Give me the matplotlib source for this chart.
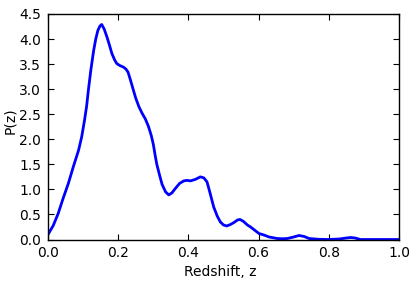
import numpy as np
import matplotlib
matplotlib.use("Agg")
import matplotlib.pyplot as plt

# redshift probability curve
z = [0.0, 0.015, 0.029, 0.043, 0.058, 0.072, 0.087, 0.096, 0.104, 0.110, 0.115,
     0.122, 0.130, 0.136, 0.142, 0.148, 0.153, 0.160, 0.168, 0.175, 0.182,
     0.190, 0.196, 0.205, 0.215, 0.222, 0.228, 0.235, 0.242, 0.250, 0.259,
     0.268, 0.277, 0.286, 0.294, 0.300, 0.306, 0.310, 0.318, 0.325, 0.335,
     0.344, 0.353, 0.363, 0.375, 0.387, 0.396, 0.406, 0.420, 0.434, 0.444,
     0.453, 0.462, 0.472, 0.482, 0.491, 0.500, 0.509, 0.520, 0.530, 0.540,
     0.547, 0.557, 0.568, 0.577, 0.590, 0.601, 0.615, 0.630, 0.653, 0.668,
     0.682, 0.700, 0.715, 0.730, 0.744, 0.770, 0.796, 0.830, 0.850, 0.863,
     0.875, 0.890, 0.950, 1.0]
pz = [0.10, 0.28, 0.52, 0.82, 1.12, 1.45, 1.78, 2.05, 2.38, 2.66, 2.98,
      3.38, 3.77, 4.00, 4.17, 4.26, 4.29, 4.20, 4.04, 3.88, 3.71,
      3.58, 3.51, 3.47, 3.44, 3.40, 3.34, 3.18, 3.01, 2.82, 2.65,
      2.52, 2.41, 2.26, 2.08, 1.90, 1.65, 1.50, 1.28, 1.10, 0.95,
      0.89, 0.93, 1.02, 1.12, 1.17, 1.18, 1.17, 1.20, 1.25, 1.23,
      1.15, 0.92, 0.65, 0.47, 0.35, 0.29, 0.27, 0.30, 0.34, 0.39,
      0.40, 0.36, 0.29, 0.25, 0.18, 0.12, 0.09, 0.05, 0.02, 0.015,
      0.02, 0.05, 0.08, 0.06, 0.02, 0.005, 0.0, 0.01, 0.03, 0.04,
      0.03, 0.0, 0.0, 0.0]

plt.rcParams['font.family'] = ['DejaVu Sans']
plt.rcParams['font.size'] = 10

fig = plt.figure(figsize=(4.15, 2.82), dpi=100)
ax = fig.add_axes([0.1157, 0.1507, 0.8457, 0.7997])

ax.plot(z, pz, color='#0000ff', lw=2)

ax.set_xlim(0, 1.0)
ax.set_ylim(0, 4.5)
ax.set_xticks(np.arange(0, 1.01, 0.2))
ax.set_yticks(np.arange(0, 4.51, 0.5))
ax.tick_params(direction='in', top=True, right=True, length=4, width=0.8,
               labelsize=10, pad=5)
for s in ax.spines.values():
    s.set_linewidth(1.0)

ax.set_xlabel("Redshift, z", fontsize=10)
ax.set_ylabel("P(z)", fontsize=10)
ax.xaxis.set_label_coords(0.49, -0.113)
ax.yaxis.set_label_coords(-0.088, 0.525)

fig.savefig("out.png", dpi=100)
